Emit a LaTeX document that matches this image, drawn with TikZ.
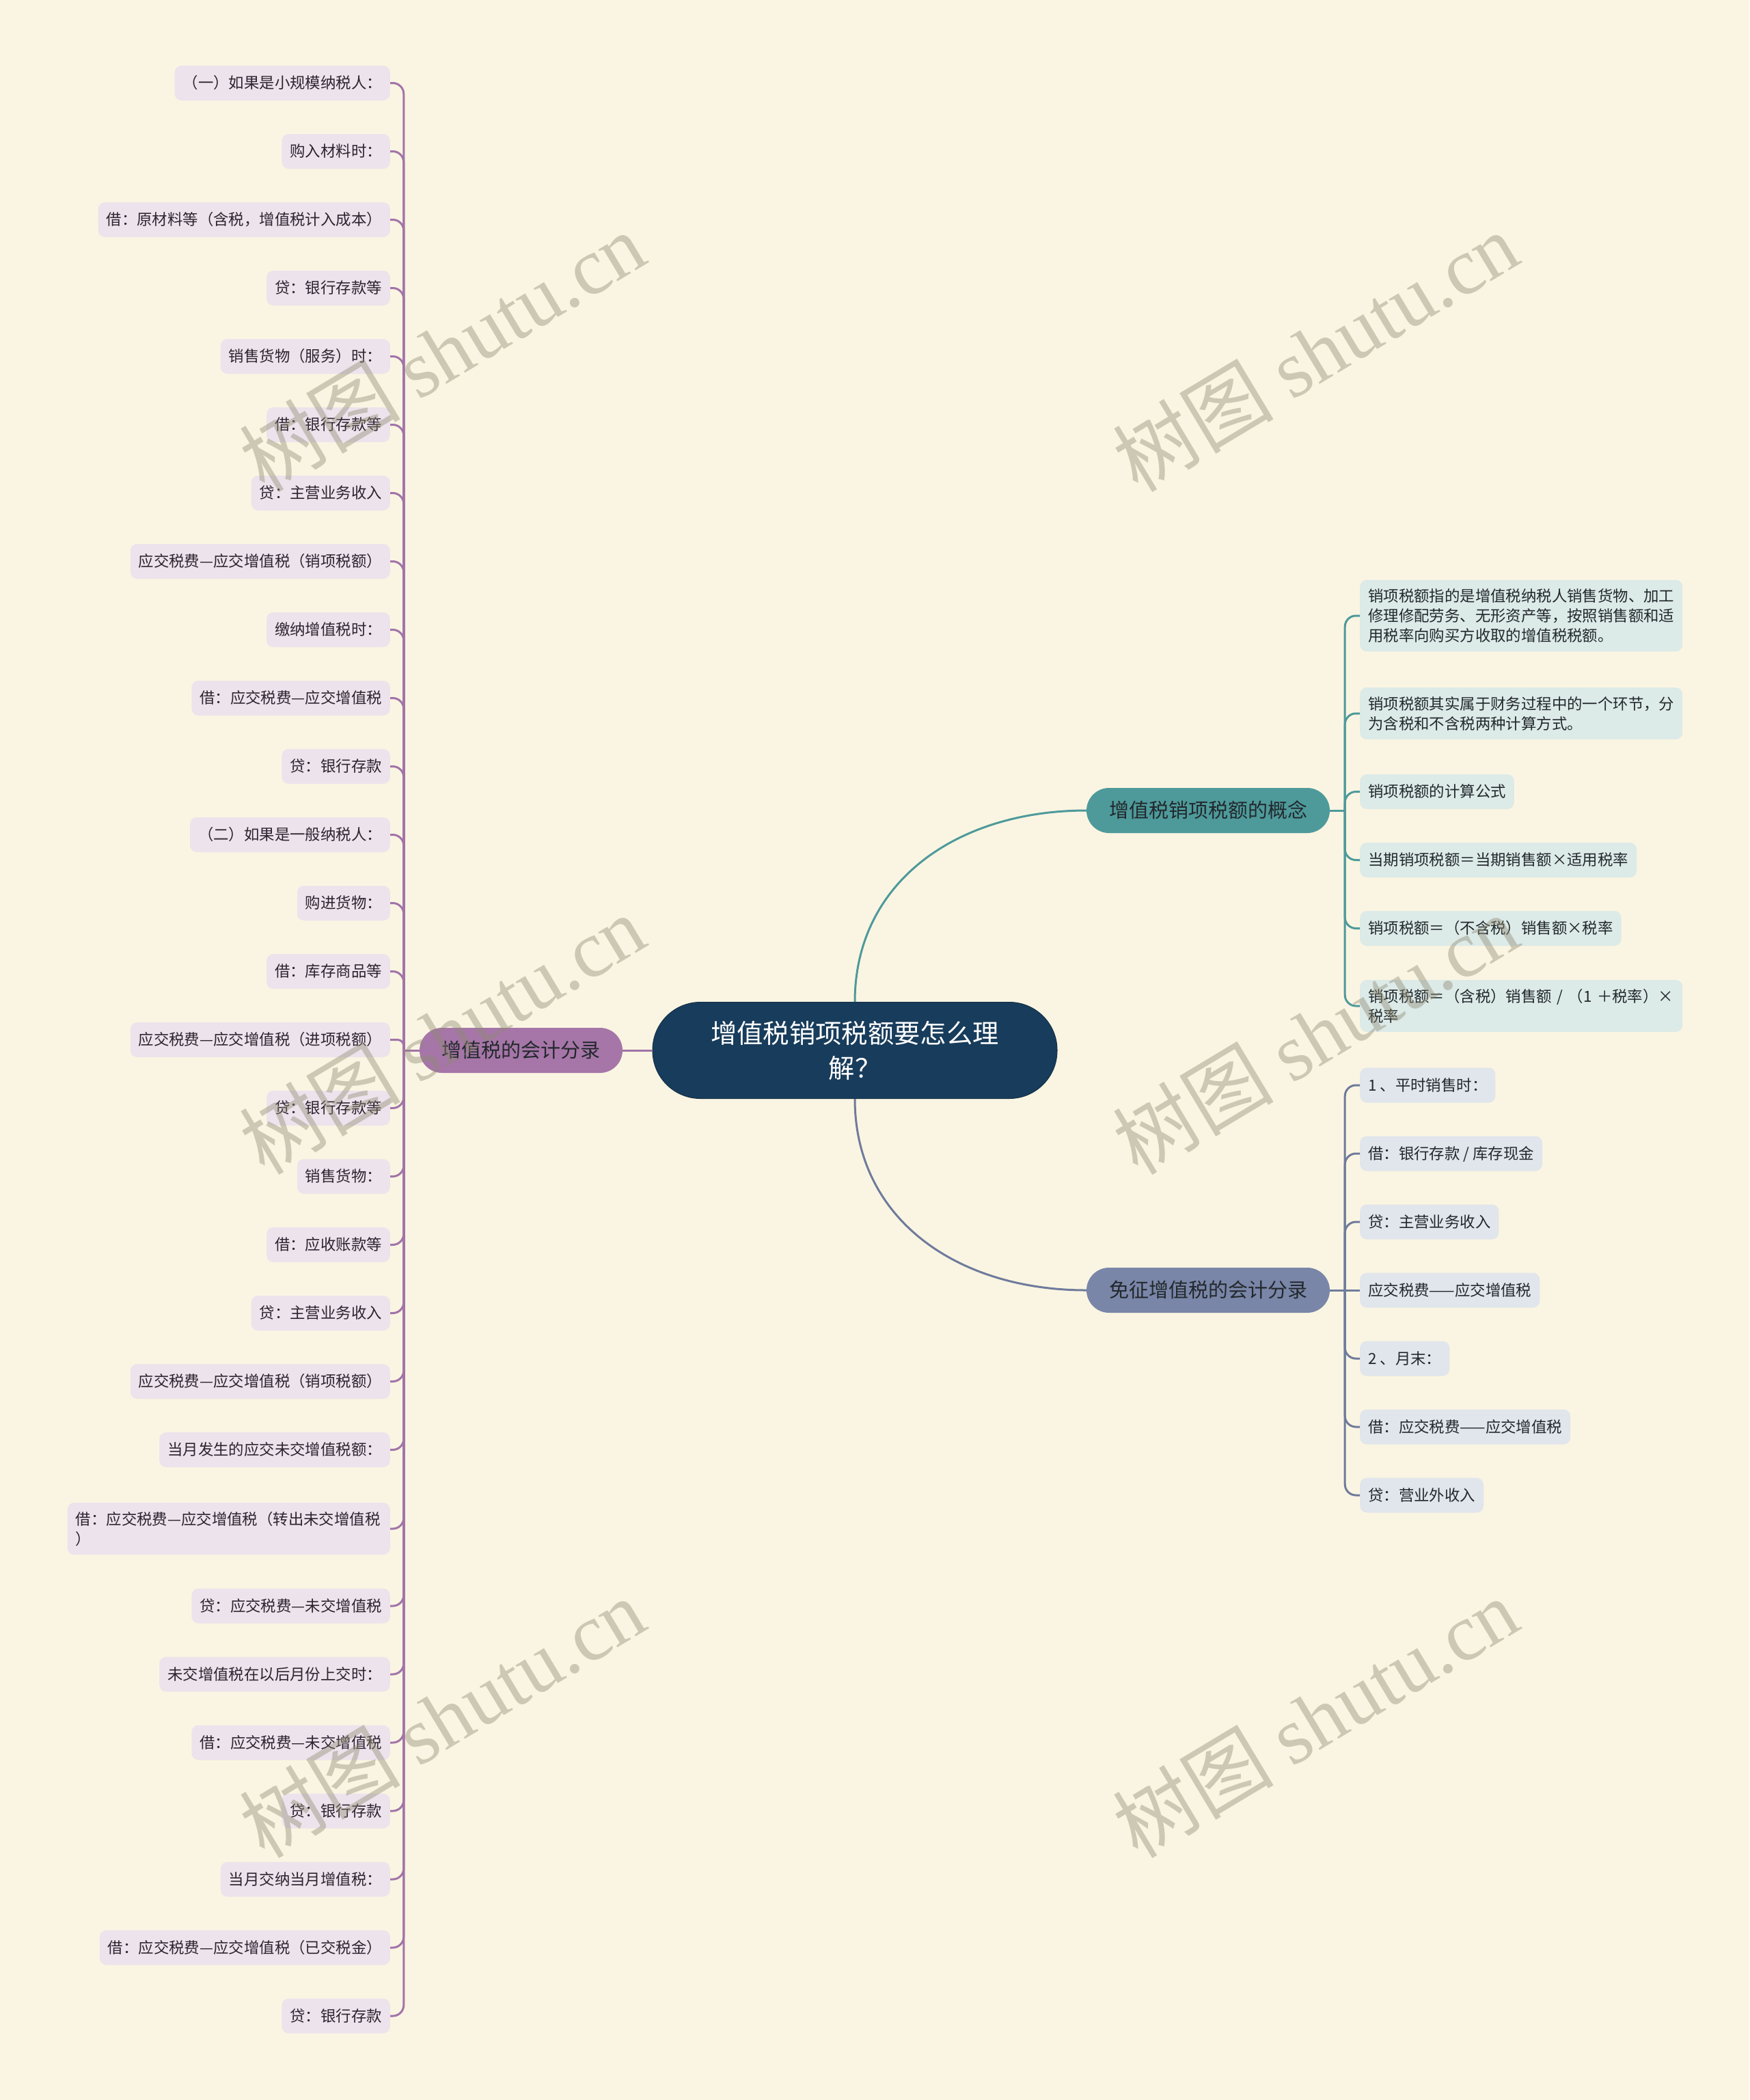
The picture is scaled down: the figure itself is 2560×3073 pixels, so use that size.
\documentclass[tikz,border=0pt]{standalone}
\usepackage{fontspec}
\setmainfont{Noto Sans CJK SC}
\newfontfamily\wmlatin{Liberation Serif}
\usetikzlibrary{calc}
\definecolor{bg}{HTML}{FAF5E2}
\definecolor{cfill}{HTML}{183C5B}
\definecolor{tfill}{HTML}{4E9A9B}
\definecolor{sfill}{HTML}{7A86A8}
\definecolor{pfill}{HTML}{A676A8}
\definecolor{tleaf}{HTML}{DCEAE8}
\definecolor{sleaf}{HTML}{E1E5EC}
\definecolor{pleafc}{HTML}{EDE3EC}
\definecolor{tcol}{HTML}{4E9A9B}
\definecolor{scol}{HTML}{6F7B9C}
\definecolor{pcol}{HTML}{A274A8}
\definecolor{darktext}{HTML}{22282C}
\definecolor{ptext}{HTML}{2E2230}
\definecolor{wmc}{HTML}{8F8A72}
\tikzset{
  leafbase/.style={rectangle, rounded corners=10pt, inner xsep=12pt,
    font=\fontsize{22.4}{29}\selectfont},
  leafone/.style={minimum height=51pt, inner ysep=0pt, text height=19pt, text depth=3pt},
  leafmulti/.style={inner ysep=13pt, align=left, text width=448pt},
  pbox/.style={leafbase, fill=pleafc, text=ptext, anchor=east},
  tbox/.style={leafbase, fill=tleaf, text=darktext, anchor=west},
  sbox/.style={leafbase, fill=sleaf, text=darktext, anchor=west},
  mainbox/.style={rectangle, rounded corners=33pt, minimum height=66pt, inner xsep=0pt,
    font=\fontsize{29}{34}\selectfont, text height=25pt, text depth=3.5pt, text=darktext},
  centerbox/.style={rectangle, rounded corners=70pt, minimum width=592pt, minimum height=141pt,
    fill=cfill, draw=cfill!80!black, line width=1pt, text=white, align=center,
    font=\fontsize{38.3}{51}\selectfont},
  pline/.style={draw=pcol, line width=3pt},
  tline/.style={draw=tcol, line width=3pt},
  sline/.style={draw=scol, line width=3pt},
  wm/.style={text=wmc, opacity=0.42, rotate=31, font=\fontsize{118}{118}\selectfont}
}
\begin{document}
\begin{tikzpicture}[x=1pt,y=-1pt]
\fill[bg] (0,0) rectangle (2560,3073);
\useasboundingbox (0,0) rectangle (2560,3073);

% center
\node[centerbox] (c) at (1251,1537) {增值税销项税额要怎么理\\解？};

% main branches
\node[mainbox, fill=tfill, minimum width=356pt] (tm) at (1768,1186) {增值税销项税额的概念};
\node[mainbox, fill=sfill, minimum width=356pt] (sm) at (1768,1888) {免征增值税的会计分录};
\node[mainbox, fill=pfill, minimum width=297pt] (pm) at (762.5,1537) {增值税的会计分录};

% teal leaves
\node[tbox, leafmulti] (t1) at (1990,901) {销项税额指的是增值税纳税人销售货物、加工\\修理修配劳务、无形资产等，按照销售额和适\\用税率向购买方收取的增值税税额。};
\node[tbox, leafmulti] (t2) at (1990,1044) {销项税额其实属于财务过程中的一个环节，分\\为含税和不含税两种计算方式。};
\node[tbox, leafone] (t3) at (1990,1158.5) {销项税额的计算公式};
\node[tbox, leafone] (t4) at (1990,1258.5) {当期销项税额＝当期销售额×适用税率};
\node[tbox, leafone] (t5) at (1990,1358.5) {销项税额＝（不含税）销售额×税率};
\node[tbox, leafmulti] (t6) at (1990,1472) {销项税额＝（含税）销售额 / （1 ＋税率）×\\税率};

% slate leaves
\node[sbox, leafone] (s1) at (1990,1588) {1 、平时销售时：};
\node[sbox, leafone] (s2) at (1990,1688) {借：银行存款 / 库存现金};
\node[sbox, leafone] (s3) at (1990,1788) {贷：主营业务收入};
\node[sbox, leafone] (s4) at (1990,1888) {应交税费——应交增值税};
\node[sbox, leafone] (s5) at (1990,1988) {2 、月末：};
\node[sbox, leafone] (s6) at (1990,2088) {借：应交税费——应交增值税};
\node[sbox, leafone] (s7) at (1990,2188) {贷：营业外收入};

% purple leaves
\node[pbox, leafone] (p1) at (571,121.5) {（一）如果是小规模纳税人：};
\node[pbox, leafone] (p2) at (571,221.5) {购入材料时：};
\node[pbox, leafone] (p3) at (571,321.5) {借：原材料等（含税，增值税计入成本）};
\node[pbox, leafone] (p4) at (571,421.5) {贷：银行存款等};
\node[pbox, leafone] (p5) at (571,521.5) {销售货物（服务）时：};
\node[pbox, leafone] (p6) at (571,621.5) {借：银行存款等};
\node[pbox, leafone] (p7) at (571,721.5) {贷：主营业务收入};
\node[pbox, leafone] (p8) at (571,821.5) {应交税费—应交增值税（销项税额）};
\node[pbox, leafone] (p9) at (571,921.5) {缴纳增值税时：};
\node[pbox, leafone] (p10) at (571,1021.5) {借：应交税费—应交增值税};
\node[pbox, leafone] (p11) at (571,1121.5) {贷：银行存款};
\node[pbox, leafone] (p12) at (571,1221.5) {（二）如果是一般纳税人：};
\node[pbox, leafone] (p13) at (571,1321.5) {购进货物：};
\node[pbox, leafone] (p14) at (571,1421.5) {借：库存商品等};
\node[pbox, leafone] (p15) at (571,1521.5) {应交税费—应交增值税（进项税额）};
\node[pbox, leafone] (p16) at (571,1621.5) {贷：银行存款等};
\node[pbox, leafone] (p17) at (571,1721.5) {销售货物：};
\node[pbox, leafone] (p18) at (571,1821.5) {借：应收账款等};
\node[pbox, leafone] (p19) at (571,1921.5) {贷：主营业务收入};
\node[pbox, leafone] (p20) at (571,2021.5) {应交税费—应交增值税（销项税额）};
\node[pbox, leafone] (p21) at (571,2121.5) {当月发生的应交未交增值税额：};
\node[pbox, leafmulti] (p22) at (571,2237) {借：应交税费—应交增值税（转出未交增值税\\）};
\node[pbox, leafone] (p23) at (571,2350) {贷：应交税费—未交增值税};
\node[pbox, leafone] (p24) at (571,2450) {未交增值税在以后月份上交时：};
\node[pbox, leafone] (p25) at (571,2550) {借：应交税费—未交增值税};
\node[pbox, leafone] (p26) at (571,2650) {贷：银行存款};
\node[pbox, leafone] (p27) at (571,2750) {当月交纳当月增值税：};
\node[pbox, leafone] (p28) at (571,2850) {借：应交税费—应交增值税（已交税金）};
\node[pbox, leafone] (p29) at (571,2950) {贷：银行存款};

% main connectors
\draw[tline] (c.north) .. controls ($(c.north)+(0,-175)$) and ($(tm.west)+(-190,0)$) .. (tm.west);
\draw[sline] (c.south) .. controls ($(c.south)+(0,175)$) and ($(sm.west)+(-190,0)$) .. (sm.west);
\draw[pline] (c.west) -- (pm.east);

% junctions
\coordinate (tj) at ($(tm.east)+(22,0)$);
\coordinate (sj) at ($(sm.east)+(22,0)$);
\coordinate (pj) at ($(pm.west)+(-23,0)$);
\draw[tline] (tm.east) -- (tj);
\draw[sline] (sm.east) -- (sj);
\draw[pline] (pm.west) -- (pj);

% leaf connectors
\foreach \n in {1,2,3,4,5,6}
  \draw[tline, rounded corners=16pt] (tj) -- (tj |- t\n.west) -- (t\n.west);
\foreach \n in {1,2,3,5,6,7}
  \draw[sline, rounded corners=16pt] (sj) -- (sj |- s\n.west) -- (s\n.west);
\draw[sline] (sj) -- (s4.west);
\foreach \n in {1,2,3,4,5,6,7,8,9,10,11,12,13,14,16,17,18,19,20,21,22,23,24,25,26,27,28,29}
  \draw[pline, rounded corners=16pt] (pj) -- (pj |- p\n.east) -- (p\n.east);
\draw[pline, rounded corners=9pt] (pj) -- (pj |- p15.east) -- (p15.east);

% watermarks
\node[wm] (w1) at (647,514) {树图 {\wmlatin shutu.cn}};
\node[wm] (w2) at (647,1513) {树图 {\wmlatin shutu.cn}};
\node[wm] (w3) at (647,2513) {树图 {\wmlatin shutu.cn}};
\node[wm] (w4) at (1925,514) {树图 {\wmlatin shutu.cn}};
\node[wm] (w5) at (1925,1513) {树图 {\wmlatin shutu.cn}};
\node[wm] (w6) at (1925,2513) {树图 {\wmlatin shutu.cn}};
\end{tikzpicture}
\end{document}
